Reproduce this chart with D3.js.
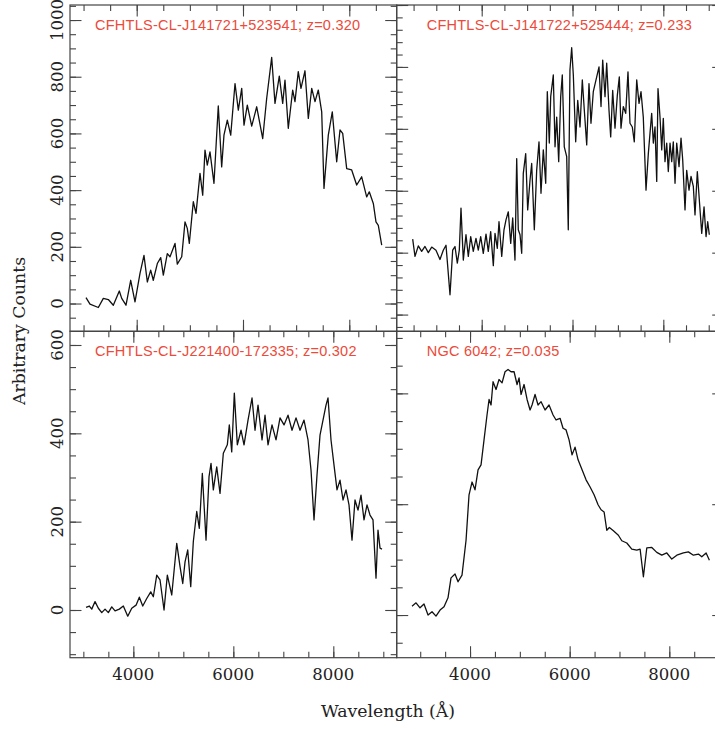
<!DOCTYPE html>
<meta charset="utf-8">
<script src="https://d3js.org/d3.v7.min.js"></script>
<style>
  body { margin: 0; background: #fff; }
  .frame { fill: none; stroke: #444; stroke-width: 1.2px; }
  .axis path { display: none; }
  .axis line { stroke: #444; stroke-width: 1.1px; }
  .spec { fill: none; stroke: #111; stroke-width: 1.3px; stroke-linejoin: round; }
  .tick-label { font-family: "DejaVu Serif", serif; font-size: 16.5px; fill: #222; }
  .axis-title { font-family: "DejaVu Serif", serif; font-size: 17.3px; fill: #222; }
  .name { font-family: "Liberation Sans", Arial, sans-serif; font-size: 14.5px; letter-spacing: 0.25px; fill: #ec4a3a; }
</style>
<body>
<div id="chart"></div>
<script>
// ---- data ----
const tlWave = [3046,3121,3278,3372,3466,3560,3673,3718,3799,3887,3968,4062,4137,4200,4263,4312,4388,4452,4501,4576,4627,4721,4764,4847,4909,4952,4990,5065,5116,5191,5242,5285,5328,5379,5454,5535,5599,5642,5705,5769,5850,5912,5976,6019,6081,6164,6258,6371,6446,6540,6602,6683,6747,6790,6852,6935,6978,7040,7091,7166,7229,7293,7355,7417,7481,7524,7605,7680,7763,7825,7876,7951,8045,8139,8233,8327,8376,8452,8502,8546,8610];
const tlFlux = [21,-2,-14,18,14,-6,44,18,-6,82,6,106,170,76,118,82,141,162,100,176,165,212,139,165,288,265,212,359,318,459,382,541,488,535,424,697,482,594,647,594,776,682,759,629,700,626,694,582,724,868,706,802,706,788,618,753,712,818,759,821,653,759,712,753,676,406,594,676,500,612,600,476,471,418,447,376,394,353,288,276,206];

const trWave = [2480,2531,2604,2678,2751,2824,2899,2993,3081,3154,3214,3302,3361,3412,3463,3507,3544,3595,3654,3705,3758,3815,3874,3925,3978,4035,4095,4145,4198,4256,4293,4344,4381,4441,4491,4535,4586,4639,4683,4733,4771,4806,4844,4881,4916,4969,5013,5064,5101,5159,5211,5262,5306,5357,5410,5445,5489,5520,5577,5615,5652,5696,5740,5775,5819,5872,5907,5944,5982,6018,6070,6115,6165,6216,6260,6313,6363,6407,6458,6533,6584,6628,6665,6716,6753,6804,6841,6885,6936,6987,7031,7068,7119,7172,7222,7266,7317,7361,7414,7465,7509,7559,7619,7670,7707,7744,7780,7817,7855,7883,7927,7965,8000,8037,8075,8110,8148,8185,8220,8258,8295,8346,8390,8427,8478,8515,8566,8610,8661,8698,8749,8793,8846,8897,8941,8978,9013];
const trFlux = [122,94,111,102,110,100,109,104,89,104,112,32,104,110,83,104,172,88,129,94,126,102,123,104,126,99,130,102,134,79,131,107,150,94,137,153,166,115,156,88,252,137,129,99,228,260,169,217,244,137,233,279,196,266,212,360,277,352,387,271,319,247,352,387,271,255,137,395,431,387,279,346,303,379,330,274,373,309,360,384,400,336,411,352,406,330,287,362,301,354,384,301,336,325,392,309,303,279,379,341,360,319,201,260,293,325,277,303,215,365,319,266,317,247,277,231,277,247,279,212,277,239,285,250,169,233,201,223,207,161,231,185,131,174,126,150,129];

const blWave = [3054,3120,3168,3234,3300,3368,3434,3500,3568,3634,3720,3800,3888,3968,4054,4120,4188,4268,4348,4400,4468,4534,4614,4680,4768,4868,4934,4988,5034,5088,5148,5200,5268,5320,5380,5454,5514,5554,5600,5668,5734,5800,5880,5920,5968,6020,6080,6154,6214,6294,6374,6434,6494,6574,6634,6694,6774,6854,6934,7014,7094,7174,7254,7334,7414,7494,7554,7614,7674,7734,7794,7854,7894,7954,8014,8074,8134,8194,8254,8314,8374,8434,8494,8554,8614,8674,8734,8794,8854,8894,8934,8974];
const blFlux = [6,9,2,19,4,-6,2,-6,7,-2,2,9,-14,4,11,29,9,26,41,30,79,68,0,79,34,151,98,60,109,136,53,155,223,185,309,158,302,332,272,324,264,355,374,419,358,491,374,407,374,430,480,407,464,385,441,374,419,385,435,419,441,407,435,407,430,385,317,204,306,396,430,464,480,385,328,272,294,249,272,238,158,249,226,260,204,238,215,204,72,181,140,138];

const brWave = [2835,2916,2996,3076,3157,3237,3317,3398,3478,3558,3618,3699,3759,3839,3920,3980,4040,4100,4161,4221,4281,4341,4382,4422,4462,4522,4582,4643,4703,4763,4823,4884,4944,4984,5024,5084,5145,5205,5245,5305,5365,5426,5506,5586,5667,5727,5807,5867,5928,5988,6048,6108,6169,6249,6329,6410,6490,6570,6631,6691,6745,6797,6878,6978,7046,7147,7247,7347,7414,7480,7548,7649,7749,7849,7950,8050,8151,8283,8383,8484,8584,8652,8739,8805];
const brFlux = [16,22,13,20,0,6,-2,9,15,31,67,74,60,72,135,217,240,226,262,271,316,361,389,379,421,407,425,419,439,443,439,439,416,428,398,416,389,370,379,398,379,385,370,379,361,352,355,337,334,316,289,303,280,262,244,231,217,199,190,186,153,158,152,144,134,130,119,117,119,69,121,122,113,108,112,101,108,112,114,108,110,105,112,99];

const names = ["CFHTLS-CL-J141721+523541; z=0.320", "CFHTLS-CL-J141722+525444; z=0.233",
               "CFHTLS-CL-J221400-172335; z=0.302", "NGC 6042; z=0.035"];

// ---- layout ----
const width = 715, height = 729;
const colX = [70, 396.7, 723.7];
const rowY = [5, 331.3, 657.7];

const panels = [
  {wave: tlWave, flux: tlFlux, name: names[0], col: 0, row: 0, xd: [2745, 8892], yd: [-98, 1053], ymaj: 200, ymin: 50},
  {wave: trWave, flux: trFlux, name: names[1], col: 1, row: 0, xd: [2128, 9330], yd: [-27, 500], ymaj: 100, ymin: 20},
  {wave: blWave, flux: blFlux, name: names[2], col: 0, row: 1, xd: [2733, 9268], yd: [-108, 631], ymaj: 200, ymin: 50},
  {wave: brWave, flux: brFlux, name: names[3], col: 1, row: 1, xd: [2528, 9092], yd: [-77, 512], ymaj: 200, ymin: 50}
];

const svg = d3.select("#chart").append("svg")
  .attr("width", width)
  .attr("height", height);

function stepTicks(domain, step) {
  const a = Math.ceil(domain[0] / step) * step;
  return d3.range(a, domain[1] + 1e-6, step);
}

panels.forEach(function(p, i) {
  const x0 = colX[p.col], x1 = colX[p.col + 1];
  const y0 = rowY[p.row], y1 = rowY[p.row + 1];
  const x = d3.scaleLinear().domain(p.xd).range([x0, x1]);
  const y = d3.scaleLinear().domain(p.yd).range([y1, y0]);

  const g = svg.append("g");

  svg.append("clipPath").attr("id", "clip" + i)
    .append("rect").attr("x", x0).attr("y", y0).attr("width", x1 - x0).attr("height", y1 - y0);

  const xMaj = stepTicks(p.xd, 2000), xMin = stepTicks(p.xd, 500);
  const yMaj = stepTicks(p.yd, p.ymaj), yMin = stepTicks(p.yd, p.ymin);

  // ticks pointing inward on all four sides
  const sides = [
    [d3.axisBottom, "translate(0," + y1 + ")", x],
    [d3.axisTop, "translate(0," + y0 + ")", x],
    [d3.axisLeft, "translate(" + x0 + ",0)", y],
    [d3.axisRight, "translate(" + x1 + ",0)", y]
  ];
  sides.forEach(function(s, k) {
    const isX = k < 2;
    const maj = isX ? xMaj : yMaj, min = isX ? xMin : yMin;
    g.append("g").attr("class", "axis").attr("transform", s[1])
      .call(s[0](s[2]).tickValues(min).tickSize(-6).tickFormat(""));
    g.append("g").attr("class", "axis").attr("transform", s[1])
      .call(s[0](s[2]).tickValues(maj).tickSize(-11.5).tickFormat(""));
  });

  g.append("rect").attr("class", "frame")
    .attr("x", x0).attr("y", y0).attr("width", x1 - x0).attr("height", y1 - y0);

  const line = d3.line().x((d, j) => x(p.wave[j])).y(d => y(d));
  g.append("path").attr("class", "spec")
    .attr("clip-path", "url(#clip" + i + ")")
    .attr("d", line(p.flux));

  g.append("text").attr("class", "name")
    .attr("x", x0 + (p.col === 0 ? 25 : 30))
    .attr("y", y0 + 24.5)
    .text(p.name);

  if (p.col === 0) {
    g.selectAll(".ylab").data(yMaj.filter(v => v >= 0)).enter()
      .append("text").attr("class", "tick-label")
      .attr("text-anchor", "middle")
      .attr("transform", d => "translate(63," + y(d) + ") rotate(-90)")
      .text(d => d);
  }
  if (p.row === 1) {
    g.selectAll(".xlab").data(xMaj).enter()
      .append("text").attr("class", "tick-label")
      .attr("text-anchor", "middle")
      .attr("x", d => x(d)).attr("y", 680)
      .text(d => d);
  }
});

svg.append("text").attr("class", "axis-title")
  .attr("text-anchor", "middle")
  .attr("transform", "translate(25,331) rotate(-90)")
  .text("Arbitrary Counts");

svg.append("text").attr("class", "axis-title")
  .attr("text-anchor", "middle")
  .attr("x", 388).attr("y", 717)
  .text("Wavelength (Å)");
</script>
</body>
